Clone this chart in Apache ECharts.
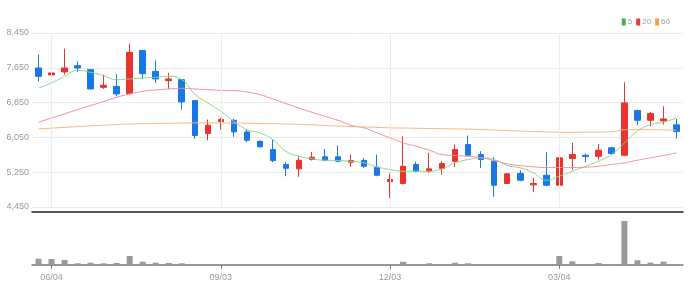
<!DOCTYPE html>
<html>
<head>
<meta charset="utf-8">
<script src="https://cdn.jsdelivr.net/npm/echarts@6/dist/echarts.min.js"></script>
<style>html,body{margin:0;padding:0;background:#fff}#c{width:697px;height:298px}</style>
</head>
<body>
<div id="c"></div>
<script>
var dates = ['05/28','06/04','06/11','06/18','06/25','07/02','07/09','07/16','07/23','07/30','08/06','08/13','08/20','08/27','09/03','09/10','09/17','09/24','10/01','10/08','10/15','10/22','10/29','11/05','11/12','11/19','11/26','12/03','12/10','12/17','12/24','12/31','01/07','01/14','01/21','01/28','02/04','02/11','02/18','02/25','03/04','03/11','03/18','03/25','04/01','04/08','04/15','04/22','04/29','05/06'];
var opens  = [7646,7486,7554,7699,7607,7201,7224,7056,8050,7568,7355,7378,6896,6138,6414,6443,6177,5961,5771,5426,5327,5541,5603,5603,5479,5518,5364,5036,4990,5426,5272,5334,5502,5886,5656,5502,4990,5219,4960,5180,4951,5564,5640,5617,5810,5640,6666,6443,6429,6338];
var closes = [7454,7532,7646,7646,7164,7247,7049,8005,7516,7394,7394,6866,6093,6329,6460,6177,5984,5833,5518,5341,5525,5594,5525,5502,5518,5387,5180,5082,5387,5272,5327,5449,5771,5640,5541,4951,5213,5066,4990,4951,5580,5656,5610,5755,5679,6843,6443,6597,6475,6184];
var lows   = [7339,7302,7493,7554,7150,7164,6994,7040,7394,7302,7164,6689,6016,5984,6230,6062,5938,5820,5479,5157,5144,5518,5502,5479,5373,5350,5157,4662,4967,5249,5236,5197,5373,5617,5350,4685,4975,5043,4790,4928,4940,5311,5479,5541,5649,5617,6329,6306,6345,6023];
var highs  = [7952,7975,8090,7798,7620,7493,7509,8204,8060,7814,7532,7390,6905,6460,6498,6475,6230,5980,5998,5479,5617,5718,5787,5863,5656,5580,5656,5220,6076,5488,5695,5502,5886,6092,5732,5594,5225,5295,5121,5709,6292,5924,5679,5901,5833,7316,6689,6636,6765,6475];
var volumes = [63,60,50,17,23,17,20,90,33,23,20,17,10,10,10,10,10,7,10,10,3,3,3,10,3,3,7,10,33,10,17,7,23,17,10,10,3,3,3,10,90,37,10,20,10,440,47,23,33,10];
var ma5  = [7187,7302,7454,7591,7545,7470,7378,7394,7417,7431,7454,7378,7050,6843,6650,6420,6230,6154,5999,5732,5617,5557,5525,5518,5502,5465,5373,5311,5272,5272,5272,5327,5465,5541,5580,5541,5403,5350,5235,5066,5157,5272,5387,5502,5656,5924,6191,6345,6398,6498];
var ma20 = [6398,6498,6590,6689,6781,6873,6971,7049,7109,7141,7164,7178,7164,7148,7132,7125,7095,7033,6935,6827,6728,6627,6535,6443,6329,6269,6154,6039,5924,5847,5755,5656,5633,5617,5580,5518,5442,5403,5373,5357,5357,5357,5364,5387,5426,5465,5525,5580,5633,5695];
var ma60 = [6246,6262,6280,6298,6315,6330,6345,6358,6365,6370,6375,6380,6383,6385,6383,6380,6375,6370,6365,6358,6350,6340,6325,6310,6300,6290,6280,6270,6265,6260,6255,6250,6245,6240,6230,6220,6205,6195,6185,6175,6168,6168,6170,6172,6180,6225,6230,6228,6222,6214];
var yTicks = [4450,5250,6050,6850,7650,8450];
var tickDates = ['06/04','09/03','12/03','03/04'];

var font = "'Liberation Sans Narrow','Liberation Sans',sans-serif";
var candleData = opens.map(function(o,i){return [o, closes[i], lows[i], highs[i]];});
var showIdx = function(i){ return tickDates.indexOf(dates[i]) >= 0; };

var chart = echarts.init(document.getElementById('c'), null, {renderer:'canvas'});
chart.setOption({
  animation:false,
  textStyle:{fontFamily:font},
  legend:{
    right:22, top:13, itemWidth:4, itemHeight:7, itemGap:4, icon:'rect',
    textStyle:{fontSize:8, color:'#999', fontFamily:font, padding:[0,0,0,-3]},
    data:[{name:'5',itemStyle:{color:'#3cb44b'}},{name:'20',itemStyle:{color:'#e53935'}},{name:'60',itemStyle:{color:'#f0a040'}}]
  },
  grid:[
    {left:32, right:14, top:33, height:174},
    {left:32, right:14, top:220, height:45}
  ],
  xAxis:[
    {type:'category', gridIndex:0, data:dates, boundaryGap:true, offset:5,
     axisLine:{lineStyle:{color:'#222', width:1.5}}, axisTick:{show:false}, axisLabel:{show:false}, splitLine:{show:false}},
    {type:'category', gridIndex:1, data:dates, boundaryGap:true,
     axisLine:{lineStyle:{color:'#777', width:1.5}},
     axisTick:{show:true, alignWithLabel:true, interval:function(i){return showIdx(i);}, length:4, lineStyle:{color:'#777'}},
     axisLabel:{interval:function(i){return showIdx(i);}, color:'#999', fontSize:9, margin:8, fontFamily:font},
     splitLine:{show:false}}
  ],
  yAxis:[
    {type:'value', gridIndex:0, min:yTicks[0], max:yTicks[yTicks.length-1], interval:800,
     axisLine:{show:false}, axisTick:{show:false},
     axisLabel:{color:'#999', fontSize:9, margin:3, fontFamily:font, formatter:function(v){return v.toLocaleString('en-US');}},
     splitLine:{lineStyle:{color:'#ececec'}}},
    {type:'value', gridIndex:1, min:0, max:450, axisLine:{show:false}, axisTick:{show:false}, axisLabel:{show:false}, splitLine:{show:false}}
  ],
  series:[
    {type:'candlestick', name:'price', xAxisIndex:0, yAxisIndex:0, data:candleData, barWidth:6,
     itemStyle:{color:'#e8332f', color0:'#1a78e6', borderColor:'#e8332f', borderColor0:'#1a78e6', borderWidth:1},
     markLine:{silent:true, symbol:'none', label:{show:false}, lineStyle:{color:'#ececec', type:'solid', width:1},
       data:tickDates.map(function(d){return {xAxis:d};})}},
    {type:'line', name:'5', data:ma5, smooth:true, showSymbol:false, symbol:'none', lineStyle:{color:'#86d686', width:1}, itemStyle:{color:'#86d686'}},
    {type:'line', name:'20', data:ma20, smooth:true, showSymbol:false, symbol:'none', lineStyle:{color:'#f08c9c', width:1}, itemStyle:{color:'#f08c9c'}},
    {type:'line', name:'60', data:ma60, smooth:true, showSymbol:false, symbol:'none', lineStyle:{color:'#f7b47c', width:1}, itemStyle:{color:'#f7b47c'}},
    {type:'bar', name:'vol', xAxisIndex:1, yAxisIndex:1, data:volumes, barWidth:6, itemStyle:{color:'#9a9a9a'}}
  ]
});
</script>
</body>
</html>
